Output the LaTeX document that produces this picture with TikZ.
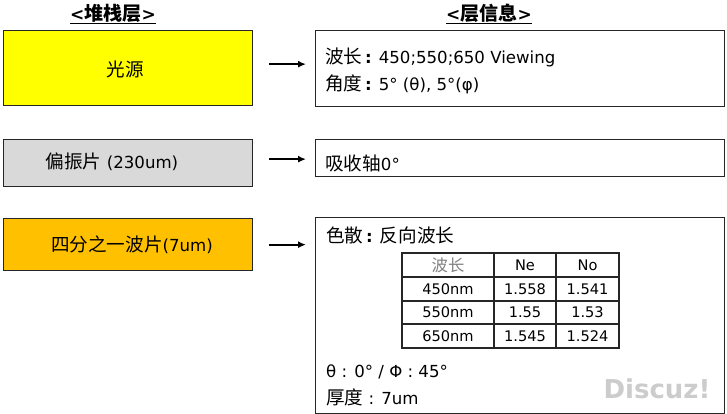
\documentclass[tikz,border=0pt]{standalone}
\usepackage{fontspec}
\setmainfont{DejaVu Sans}
\newfontfamily\cjk{Noto Sans CJK SC}[Scale=1.12]
\usepackage{xcolor}
\usetikzlibrary{arrows.meta}
\definecolor{srcyellow}{HTML}{FFFF00}
\definecolor{polgray}{HTML}{D9D9D9}
\definecolor{waveorange}{HTML}{FFC000}

\begin{document}
\begin{tikzpicture}[x=1pt,y=-1pt,
 layer/.style={draw=black!85, line width=1.3pt, minimum width=249, anchor=north west, inner sep=0},
 info/.style={draw=black!85, line width=1.3pt, minimum width=409, anchor=north west, inner sep=0},
 txt/.style={anchor=west, inner sep=0, font=\fontsize{16.6}{19}\selectfont},
 cell/.style={inner sep=0, font=\fontsize{14.6}{16}\selectfont},
 tabline/.style={draw=black!85, line width=1.2pt},
 head/.style={font=\bfseries\fontsize{17}{20}\selectfont},
 link/.style={-{Latex[length=8pt,width=7pt]}, line width=1.8pt, shorten <=16pt, shorten >=9pt}]
\useasboundingbox (0,0) rectangle (727,414);
% Column Headers
\node[head] (stackhead) at (113,14) {\underline{<{\cjk 堆栈层}>}};
\node[head] (infohead) at (489,14) {\underline{<{\cjk 层信息}>}};
% Stack Layers
\node[layer, fill=srcyellow, minimum height=75] (light) at (3,30) {};
\node[txt, anchor=center] (lighttext) at (125,69) {{\cjk 光源}};
\node[layer, fill=polgray, minimum height=47] (polar) at (3,139) {};
\node[txt, anchor=center] (polartext) at (112,162) {{\cjk 偏振片} (230um)};
\node[layer, fill=waveorange, minimum height=52] (qwave) at (3,218) {};
\node[txt, anchor=center] (qwavetext) at (132,245) {{\cjk 四分之一波片}(7um)};
% Layer Information
\node[info, minimum height=76] (lightinfo) at (315,30) {};
\node[txt] (wl) at (325,57) {{\cjk 波长}\,\textbf{:} 450;550;650 Viewing};
\node[txt] (ang) at (325,84) {{\cjk 角度}\,\textbf{:} 5° (θ), 5°(φ)};
\node[info, minimum height=37] (polarinfo) at (315,139) {};
\node[txt] (axis) at (325,163) {{\cjk 吸收轴}0°};
\node[info, minimum height=196] (qwaveinfo) at (315,217) {};
\node[txt] (disp) at (326,235) {{\cjk 色散}\,\textbf{:} {\cjk 反向波长}};
% Index Table
\draw[tabline] (402,253) rectangle (619,348);
\draw[tabline] (494,253) -- (494,348) (556,253) -- (556,348);
\draw[tabline] (402,277) -- (619,277) (402,301) -- (619,301) (402,324) -- (619,324);
\node[cell, text=gray] (hwl) at (448,265) {{\cjk 波长}};
\node[cell] (hne) at (525,265) {Ne};
\node[cell] (hno) at (587.5,265) {No};
\foreach \wl/\ne/\no/\y in {450nm/1.558/1.541/289, 550nm/1.55/1.53/312.5, 650nm/1.545/1.524/336}
 {
 \node[cell] (wl-\y) at (448,\y) {\wl};
 \node[cell] (ne-\y) at (525,\y) {\ne};
 \node[cell] (no-\y) at (587.5,\y) {\no};
 }
\node[txt] (angles) at (326,372) {θ : 0° / Φ : 45°};
\node[txt] (thick) at (326,397) {{\cjk 厚度} : 7um};
\node[text=gray!40, font=\bfseries\fontsize{26}{28}\selectfont] (mark) at (657,389) {Discuz!};
% Arrows
\draw[link] ([yshift=4pt]light.east) -- ([yshift=4pt]light.east -| lightinfo.west);
\draw[link] ([yshift=4pt]polar.east) -- ([yshift=4pt]polar.east -| polarinfo.west);
\draw[link] (qwave.east) -- (qwave.east -| qwaveinfo.west);
\end{tikzpicture}
\end{document}
